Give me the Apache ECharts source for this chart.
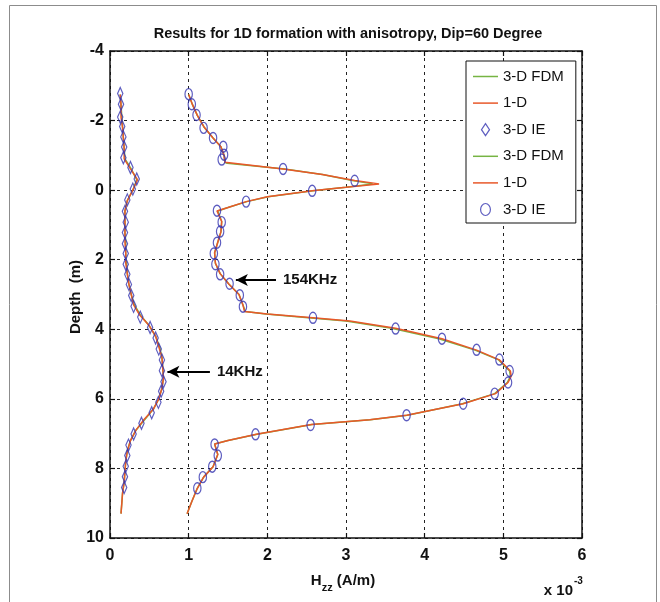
<!DOCTYPE html>
<html><head><meta charset="utf-8">
<script src="https://cdn.jsdelivr.net/npm/echarts@6/dist/echarts.min.js"></script>
<style>html,body{margin:0;padding:0;background:#fff}#c{width:660px;height:602px}</style>
</head><body><div id="c"></div>
<script>
// ---------- data (x values in units of 1e-3 A/m, depth in m) ----------
const xTicks = [0, 1, 2, 3, 4, 5, 6];
const yTicks = [-4, -2, 0, 2, 4, 6, 8, 10];

// 14 kHz curves
const depth14Line = [-2.75,-2.45,-2.1,-1.8,-1.5,-1.2,-0.9,-0.65,-0.3,0.0,0.3,0.6,0.9,1.2,1.5,1.8,2.1,2.4,2.7,3.0,3.3,3.6,3.9,4.2,4.5,4.8,5.1,5.4,5.7,6.0,6.3,6.6,6.9,7.2,7.5,7.8,8.1,8.4,8.7,9.0,9.3];
const hzz14OneD   = [0.13,0.14,0.14,0.16,0.17,0.18,0.18,0.25,0.35,0.29,0.22,0.19,0.19,0.19,0.19,0.20,0.20,0.22,0.24,0.27,0.30,0.38,0.50,0.58,0.62,0.66,0.67,0.68,0.66,0.62,0.55,0.43,0.33,0.26,0.22,0.20,0.19,0.18,0.16,0.15,0.14];
const hzz14FDM    = [0.13,0.14,0.15,0.16,0.17,0.18,0.19,0.26,0.34,0.29,0.22,0.19,0.19,0.19,0.20,0.20,0.21,0.22,0.24,0.27,0.31,0.39,0.50,0.58,0.63,0.66,0.67,0.68,0.66,0.62,0.55,0.44,0.33,0.26,0.22,0.20,0.19,0.18,0.16,0.15,0.14];
const depth14IE   = [-2.78,-2.47,-2.10,-1.83,-1.53,-1.24,-0.93,-0.65,-0.32,-0.03,0.28,0.61,0.92,1.22,1.54,1.82,2.13,2.42,2.71,3.03,3.34,3.65,3.95,4.25,4.57,4.88,5.19,5.51,5.78,6.10,6.40,6.70,7.01,7.33,7.63,7.94,8.24,8.55];
const hzz14IE     = [0.13,0.14,0.13,0.155,0.17,0.18,0.17,0.26,0.34,0.29,0.22,0.19,0.20,0.19,0.19,0.20,0.20,0.22,0.24,0.27,0.30,0.385,0.51,0.58,0.62,0.66,0.66,0.68,0.65,0.615,0.53,0.40,0.30,0.235,0.22,0.20,0.19,0.18];

// 154 kHz curves
const depth154Line = [-2.75,-2.45,-2.15,-1.8,-1.5,-1.25,-1.0,-0.8,-0.77,-0.61,-0.45,-0.28,-0.18,-0.08,0.02,0.19,0.33,0.5,0.6,0.9,1.2,1.5,1.8,2.1,2.4,2.7,3.0,3.3,3.49,3.56,3.67,3.76,3.97,4.27,4.6,4.88,5.2,5.35,5.53,5.85,6.14,6.47,6.6,6.74,7.02,7.2,7.3,7.6,7.95,8.25,8.57,8.95,9.3];
const hzz154OneD   = [1.00,1.05,1.11,1.20,1.31,1.41,1.45,1.46,1.48,2.20,2.70,3.11,3.42,3.00,2.57,2.00,1.73,1.50,1.36,1.42,1.41,1.37,1.33,1.34,1.40,1.51,1.64,1.69,1.71,2.00,2.58,3.05,3.63,4.22,4.66,4.95,5.09,5.10,5.06,4.90,4.49,3.77,3.30,2.56,1.86,1.50,1.33,1.37,1.31,1.19,1.11,1.04,0.98];
const hzz154FDM    = [1.00,1.05,1.11,1.20,1.31,1.41,1.45,1.46,1.49,2.22,2.70,3.08,3.34,3.00,2.58,2.01,1.74,1.50,1.37,1.42,1.41,1.37,1.33,1.34,1.40,1.51,1.64,1.69,1.72,1.98,2.52,3.00,3.58,4.18,4.64,4.94,5.08,5.09,5.05,4.89,4.48,3.78,3.31,2.57,1.87,1.50,1.33,1.37,1.31,1.19,1.11,1.04,0.98];
const depth154IE   = [-2.76,-2.47,-2.16,-1.79,-1.50,-1.25,-1.02,-0.88,-0.61,-0.27,0.02,0.33,0.59,0.92,1.19,1.51,1.82,2.13,2.42,2.69,3.02,3.35,3.67,3.98,4.27,4.59,4.87,5.20,5.53,5.85,6.14,6.47,6.75,7.02,7.31,7.63,7.95,8.25,8.57];
const hzz154IE     = [1.00,1.04,1.10,1.19,1.31,1.44,1.45,1.42,2.20,3.11,2.57,1.73,1.36,1.42,1.40,1.36,1.32,1.34,1.40,1.52,1.65,1.69,2.58,3.63,4.22,4.66,4.95,5.08,5.06,4.89,4.49,3.77,2.55,1.85,1.33,1.37,1.30,1.18,1.11];

// annotation arrows: [tailX, tipX, depth]
const arrow154 = [2.11, 1.60, 2.58];
const arrow14  = [1.27, 0.73, 5.22];
const label154 = '154KHz';
const label14  = '14KHz';

// ---------- styling ----------
const FONT = '"Liberation Sans", Arial, sans-serif';
const GREEN = '#76b443';
const ORANGE = '#e8582a';
const BLUE = '#3535b0';
const DIAMOND = 'path://M0,-6L4,0L0,6L-4,0Z';
const ELLIPSE = 'path://M0,-5.5A4.5,5.5 0 1,1 0,5.5A4.5,5.5 0 1,1 0,-5.5Z';
const LINE_ICON = 'path://M0,0h50v3h-50z';

const pairs = (xs, ys) => xs.map((v, i) => [v, ys[i]]);

function lineSeries(name, xs, ys, color, z, extra) {
  return Object.assign({
    name, type: 'line', data: pairs(xs, ys), symbol: 'none', showSymbol: false, z,
    lineStyle: { color, width: 1.5 }, itemStyle: { color },
    animation: false, silent: true
  }, extra || {});
}
function arrowMark(a, text) {
  return [{ coord: [a[0], a[2]], label: { formatter: text } }, { coord: [a[1], a[2]] }];
}
function ieSeries(name, xs, ys, sym, size) {
  return {
    name, type: 'scatter', data: pairs(xs, ys), symbol: sym, symbolSize: size,
    symbolKeepAspect: true, z: 5, animation: false, silent: true,
    itemStyle: { color: 'rgba(0,0,0,0)', borderColor: BLUE, borderWidth: 1.3 }
  };
}

const markLineCfg = {
  silent: true, animation: false,
  symbol: ['none', 'arrow'], symbolSize: [9, 12],
  lineStyle: { color: '#000', width: 2, type: 'solid' },
  label: { show: true, position: 'start', distance: 7, color: '#111',
           fontFamily: FONT, fontWeight: 'bold', fontSize: 15 },
  data: [arrowMark(arrow154, label154), arrowMark(arrow14, label14)]
};

const ZW = '\u200b';
const series = [
  lineSeries('3-D FDM', hzz14FDM, depth14Line, GREEN, 2),
  lineSeries('1-D', hzz14OneD, depth14Line, ORANGE, 3, { markLine: markLineCfg }),
  ieSeries('3-D IE', hzz14IE, depth14IE, DIAMOND, [8, 12]),
  lineSeries('3-D FDM' + ZW, hzz154FDM, depth154Line, GREEN, 2),
  lineSeries('1-D' + ZW, hzz154OneD, depth154Line, ORANGE, 3),
  ieSeries('3-D IE' + ZW, hzz154IE, depth154IE, ELLIPSE, [9, 11])
];

const legendData = series.map(s => {
  if (s.type === 'scatter') {
    return { name: s.name, itemStyle: { color: 'rgba(0,0,0,0)', borderColor: BLUE, borderWidth: 1.2 } };
  }
  return { name: s.name, icon: LINE_ICON, itemStyle: { color: s.lineStyle.color, borderWidth: 0 } };
});

const tickLabel = { color: '#111', fontFamily: FONT, fontWeight: 'bold', fontSize: 16 };
const axisLineStyle = { lineStyle: { color: '#111', width: 1.5 } };
const gridLine = { show: true, lineStyle: { color: '#222', width: 1, type: [3, 4] } };
const tickStyle = { show: true, inside: true, length: 5, lineStyle: { color: '#111', width: 1.2 } };

const option = {
  backgroundColor: '#ffffff',
  animation: false,
  title: {
    text: 'Results for 1D formation with anisotropy, Dip=60 Degree',
    left: 343, top: 21, textAlign: 'center',
    textStyle: { fontFamily: FONT, fontWeight: 'bold', fontSize: 14.5, color: '#111' }
  },
  grid: { left: 110, top: 51, right: 78, bottom: 64, containLabel: false, outerBoundsMode: 'none' },
  legend: {
    orient: 'vertical', left: 466, top: 61,
    padding: [8, 12, 6, 7], itemWidth: 25, itemHeight: 12, itemGap: 11.6,
    backgroundColor: '#fff', borderColor: '#111', borderWidth: 1, borderRadius: 0,
    selectedMode: false, symbolKeepAspect: true,
    textStyle: { fontFamily: FONT, fontSize: 15, color: '#111' },
    data: legendData
  },
  xAxis: [
    { type: 'value', min: 0, max: 6, interval: 1, position: 'bottom',
      axisLine: Object.assign({ show: true, onZero: false }, axisLineStyle),
      axisTick: tickStyle,
      axisLabel: Object.assign({ margin: 10, formatter: v => xTicks.includes(v) ? String(v) : '' }, tickLabel),
      splitLine: gridLine },
    { type: 'value', min: 0, max: 6, interval: 1, position: 'top',
      axisLine: Object.assign({ show: true, onZero: false }, axisLineStyle),
      axisTick: tickStyle, axisLabel: { show: false }, splitLine: { show: false } }
  ],
  yAxis: [
    { type: 'value', min: -4, max: 10, interval: 2, inverse: true, position: 'left',
      axisLine: Object.assign({ show: true, onZero: false }, axisLineStyle),
      axisTick: tickStyle,
      axisLabel: Object.assign({ margin: 6, formatter: v => yTicks.includes(v) ? String(v) : '' }, tickLabel),
      splitLine: gridLine },
    { type: 'value', min: -4, max: 10, interval: 2, inverse: true, position: 'right',
      axisLine: Object.assign({ show: true, onZero: false }, axisLineStyle),
      axisTick: tickStyle, axisLabel: { show: false }, splitLine: { show: false } }
  ],
  graphic: [
    { type: 'rect', silent: true, z: -10,
      shape: { x: 9.5, y: 5.5, width: 647, height: 600 },
      style: { fill: 'none', stroke: '#8c8c8c', lineWidth: 1 } },
    { type: 'text', silent: true, x: 76, y: 297, rotation: Math.PI / 2,
      style: { text: 'Depth  (m)', align: 'center', verticalAlign: 'middle',
               font: 'bold 15px ' + FONT, fill: '#111' } },
    { type: 'text', silent: true, x: 343, y: 581,
      style: { text: '{a|H}{b|zz}{a| (A/m)}', align: 'center', verticalAlign: 'middle',
               rich: {
                 a: { fontFamily: FONT, fontWeight: 'bold', fontSize: 15, fill: '#111', lineHeight: 24, verticalAlign: 'middle' },
                 b: { fontFamily: FONT, fontWeight: 'bold', fontSize: 11, fill: '#111', lineHeight: 24, verticalAlign: 'bottom' }
               } } },
    { type: 'text', silent: true, x: 573, y: 591,
      style: { text: 'x 10', align: 'right', verticalAlign: 'middle',
               font: 'bold 15px ' + FONT, fill: '#111' } },
    { type: 'text', silent: true, x: 574, y: 581,
      style: { text: '-3', align: 'left', verticalAlign: 'middle',
               font: 'bold 10px ' + FONT, fill: '#111' } }
  ],
  series
};

const chart = echarts.init(document.getElementById('c'), null, { renderer: 'canvas' });
chart.setOption(option);
</script>
</body></html>
